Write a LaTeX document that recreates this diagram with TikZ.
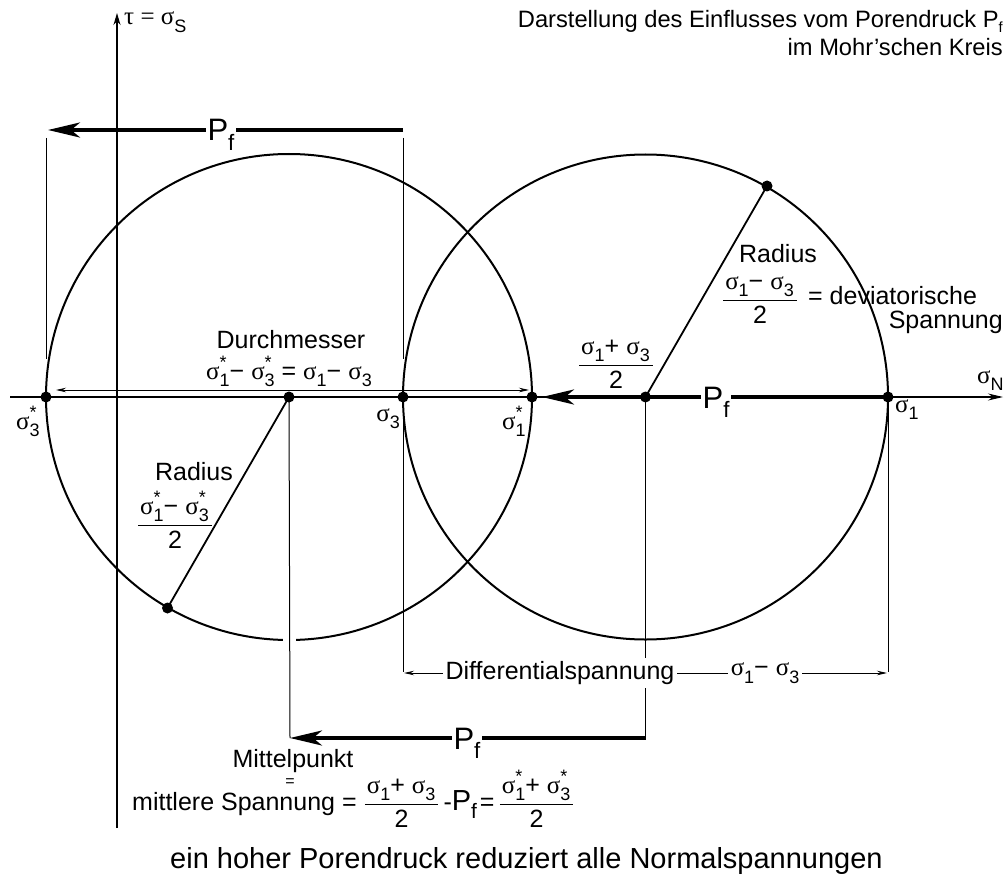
\documentclass[tikz,border=0pt]{standalone}
\usepackage{fontspec}
\setmainfont{Liberation Sans}
\newfontfamily\symf{Liberation Serif}
\usetikzlibrary{arrows.meta}
\newcommand\lsub[1]{\raisebox{-0.3em}{\scalebox{0.72}{#1}}}
\newcommand\tsub[1]{\raisebox{-0.18em}{\scalebox{0.62}{#1}}}
\newcommand\sg[1]{{\symf σ}\lsub{#1}}
\newcommand\sgs[1]{{\symf σ}\makebox[0pt][l]{\raisebox{0.42em}{\scalebox{0.72}{*}}}\lsub{#1}}
\newcommand\fr[2]{$\displaystyle\frac{\hbox{\kern2pt#1\kern3pt}}{\hbox{#2}}$}
\begin{document}
\begin{tikzpicture}[x=1pt,y=-1pt,
  thinl/.style={line width=1pt},
  axisl/.style={line width=1.3pt},
  circl/.style={line width=2pt},
  pfarrow/.style={line width=3.6pt,-{Stealth[length=32pt,width=15pt,inset=9pt]}},
  dimarrow/.style={line width=0.9pt,{Stealth[length=10pt,width=4.5pt]}-{Stealth[length=10pt,width=4.5pt]}},
  dot/.style={circle,fill,inner sep=0pt,minimum size=11pt},
  lab/.style={font=\fontsize{25}{30}\selectfont,inner sep=0pt},
  ttl/.style={font=\fontsize{23.7}{27}\selectfont,inner sep=0pt},
  pflab/.style={font=\fontsize{31}{36}\selectfont,fill=white,inner sep=2pt},
  wlab/.style={lab,fill=white,inner sep=3pt},
]
\useasboundingbox (0,0) rectangle (1008,877);
% key points
\coordinate (S3s) at (46,397);
\coordinate (C1) at (289,397);
\coordinate (S3) at (403,397);
\coordinate (S1s) at (532,397);
\coordinate (C2) at (645.5,397);
\coordinate (S1) at (888,397);
\coordinate (R1) at (167.5,608);
\coordinate (R2) at (767,186);
\coordinate (tauTop) at (117,13);
\coordinate (tauBot) at (117,828);
\coordinate (sigL) at (10,397);
\coordinate (sigR) at (1003,397);
\coordinate (v1t) at (46,138);
\coordinate (v1b) at (46,359);
\coordinate (v2t) at (403,138);
\coordinate (v2m) at (403,359);
\coordinate (v2b) at (403,672);
\coordinate (v5b) at (888,672);
\coordinate (PfTr) at (403,130);
\coordinate (PfTl) at (48,130);
\coordinate (PfMl) at (542,397);
\coordinate (PfBr) at (645.5,738);
\coordinate (PfBl) at (290,738);
\coordinate (dmL) at (56,390);
\coordinate (dmR) at (529,390);
\coordinate (dL) at (404,673);
\coordinate (dR) at (887,673);
% axes
\draw[axisl,-{Stealth[length=12pt,width=7pt]}] (tauBot) -- (tauTop);
\draw[axisl,-{Stealth[length=15pt,width=7pt,inset=5pt]}] (sigL) -- (sigR);
% circles
\draw[circl] (C1) circle[radius=243pt];
\draw[circl] (C2) circle[radius=242.5pt];
\draw[white,line width=5pt] (283,640) -- (296,640);
% radius lines
\draw[line width=1.8pt] (C1) -- (R1);
\draw[line width=1.8pt] (C2) -- (R2);
% thin verticals
\draw[thinl] (v1t) -- (v1b);
\draw[thinl] (v2t) -- (v2m);
\draw[thinl] (S3) -- (v2b);
\draw[thinl] (C1) -- (PfBl);
\draw[thinl] (C2) -- (PfBr);
\draw[thinl] (S1) -- (v5b);
% dimension lines
\draw[dimarrow] (dmL) -- (dmR);
\draw[dimarrow] (dL) -- (dR);
% Pf arrows
\draw[pfarrow] (PfTr) -- (PfTl);
\draw[pfarrow] (S1) -- (PfMl);
\draw[pfarrow] (PfBr) -- (PfBl);
% dots
\foreach \p in {S3s,C1,S3,S1s,C2,S1,R1,R2} \node[dot] (d\p) at (\p) {};
% Pf labels
\node[pflab,anchor=base] (pfT) at (221,141) {P\lsub{f}};
\node[pflab,anchor=base] (pfM) at (716,408) {P\lsub{f}};
\node[pflab,anchor=base] (pfB) at (467,749) {P\lsub{f}};
% axis labels
\node[lab,anchor=base west] (tau) at (124,25) {{\symf τ = σ}\lsub{S}};
\node[lab,anchor=base west] (sN) at (977,383) {\sg{N}};
\node[lab,anchor=base west] (ls3s) at (16,429) {\sgs{3}};
\node[lab,anchor=base east] (ls3) at (400,421) {\sg{3}};
\node[lab,anchor=base west] (ls1s) at (502,429) {\sgs{1}};
\node[lab,anchor=base west] (ls1) at (895,412) {\sg{1}};
% title
\node[ttl,anchor=base east] (t1) at (1003,28) {Darstellung des Einflusses vom Porendruck P\tsub{f}};
\node[ttl,anchor=base east] (t2) at (1003,56) {im Mohr'schen Kreis};
% diameter
\node[lab,anchor=base] (dm1) at (291,348) {Durchmesser};
\node[lab,anchor=base] (dm2) at (289,379) {\sgs{1}− \sgs{3} = \sg{1}− \sg{3}};
% right radius
\node[lab,anchor=base] (rr) at (778,262) {Radius};
\node[lab] (rrf) at (760,300) {\fr{\sg{1}− \sg{3}}{2}};
\node[lab,anchor=base west] (dev) at (808,304) {= deviatorische};
\node[lab,anchor=base east] (spn) at (1003,328) {Spannung};
% centre fraction
\node[lab] (cf) at (616,364) {\fr{\sg{1}+ \sg{3}}{2}};
% left radius
\node[lab,anchor=base] (lr) at (194,480) {Radius};
\node[lab] (lrf) at (175,520) {\fr{\sgs{1}− \sgs{3}}{2}};
% differential
\node[wlab] (diff) at (560,673) {Differentialspannung};
\node[wlab] (diffs) at (765,673) {\sg{1}− \sg{3}};
% bottom
\node[lab,anchor=base] (mp) at (293,767) {Mittelpunkt};
\node[anchor=base,inner sep=0pt,font=\fontsize{16}{18}\selectfont] (mpeq) at (290,786) {=};
\node[lab,anchor=base west] (ms) at (132,810) {mittlere Spannung = \fr{\sg{1}+ \sg{3}}{2}\kern4pt-{\fontsize{29}{30}\selectfont P\lsub{f}}\kern3pt=\kern4pt\fr{\sgs{1}+ \sgs{3}}{2}};
\node[anchor=base west,inner sep=0pt,font=\fontsize{29}{34}\selectfont] (cap) at (170,868) {ein hoher Porendruck reduziert alle Normalspannungen};
\end{tikzpicture}
\end{document}
